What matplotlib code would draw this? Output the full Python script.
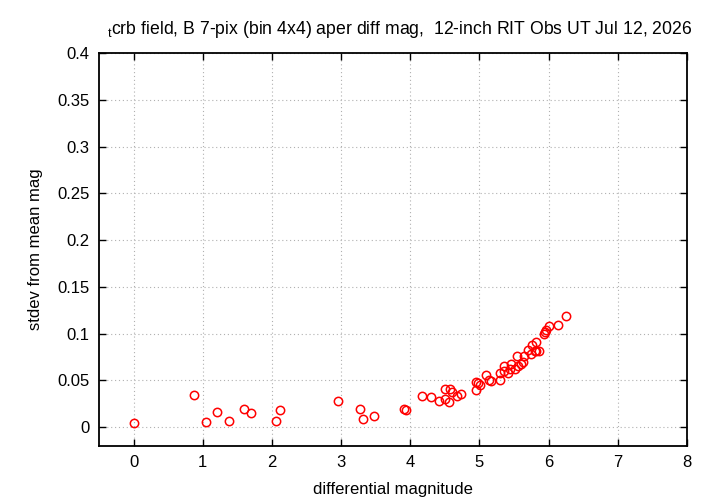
import matplotlib.pyplot as plt

plt.rcParams['font.family'] = ['Liberation Sans', 'DejaVu Sans']
plt.rcParams['mathtext.fontset'] = 'custom'
plt.rcParams['mathtext.rm'] = 'Liberation Sans'

# differential magnitude vs stdev
mag = [0.00, 0.88, 1.04, 1.20, 1.375, 1.59, 1.70, 2.06, 2.11, 2.95,
       3.27, 3.32, 3.47, 3.91, 3.94, 4.17, 4.30, 4.42, 4.50, 4.57,
       4.60, 4.50, 4.56, 4.68, 4.73, 4.95, 4.98, 5.01, 4.95, 5.09,
       5.14, 5.16, 5.29, 5.30, 5.35, 5.36, 5.41, 5.45, 5.44, 5.52,
       5.54, 5.56, 5.60, 5.63, 5.64, 5.70, 5.74, 5.76, 5.81, 5.80,
       5.82, 5.86, 5.93, 5.95, 5.96, 6.01, 6.14, 6.25]
stdev = [0.0039, 0.0339, 0.0049, 0.0161, 0.0060, 0.0189, 0.0150, 0.0060, 0.0178, 0.0279,
         0.0189, 0.0089, 0.0121, 0.0196, 0.0182, 0.0328, 0.0317, 0.0282, 0.0407, 0.0411,
         0.0375, 0.0300, 0.0271, 0.0328, 0.0349, 0.0478, 0.0472, 0.0453, 0.0392, 0.0557,
         0.0504, 0.0496, 0.0579, 0.0500, 0.0603, 0.0650, 0.0579, 0.0678, 0.0622, 0.0625,
         0.0757, 0.0654, 0.0678, 0.0697, 0.0757, 0.0821, 0.0782, 0.0875, 0.0911, 0.0818,
         0.0810, 0.0818, 0.0997, 0.1021, 0.1035, 0.1086, 0.1093, 0.1193]

fig = plt.figure(figsize=(7.2, 5.04), dpi=100)
ax = fig.add_axes([0.1375, 0.1157, 0.8167, 0.7786])

ax.plot(mag, stdev, 'o', mfc='none', mec='red', ms=6.0, mew=1.1, clip_on=False)

ax.set_xlim(-0.5, 8)
ax.set_ylim(-0.02, 0.4)
ax.set_xticks(range(0, 9))
ax.set_yticks([0, 0.05, 0.1, 0.15, 0.2, 0.25, 0.3, 0.35, 0.4])
ax.set_yticklabels(['0', '0.05', '0.1', '0.15', '0.2', '0.25', '0.3', '0.35', '0.4'])
ax.tick_params(direction='in', length=5, width=1, top=True, right=True,
               labelsize=12, pad=7)
ax.grid(True, linestyle=(0, (1, 2.5)), color='#b0b0b0', linewidth=0.8)
for s in ax.spines.values():
    s.set_linewidth(1.3)

ax.set_xlabel('differential magnitude', fontsize=12, labelpad=8)
ax.set_ylabel('stdev from mean mag', fontsize=12, labelpad=10)
ax.set_title(r'$_\mathrm{t}$crb field, B 7-pix (bin 4x4) aper diff mag,  12-inch RIT Obs UT Jul 12, 2026',
             fontsize=12.7, pad=14, x=0.512)

fig.savefig('out.png', dpi=100)
